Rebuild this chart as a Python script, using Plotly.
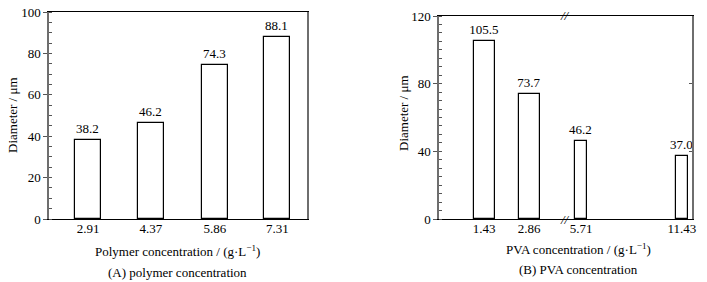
import plotly.graph_objects as go

# ---- data ----
polymer_conc = [2.91, 4.37, 5.86, 7.31]
polymer_diam = [38.2, 46.2, 74.3, 88.1]
polymer_labels = ["38.2", "46.2", "74.3", "88.1"]

pva_conc_low = [1.43, 2.86]
pva_diam_low = [105.5, 73.7]
pva_labels_low = ["105.5", "73.7"]
pva_conc_high = [5.71, 11.43]
pva_diam_high = [46.2, 37.0]
pva_labels_high = ["46.2", "37.0"]

FONT = "Liberation Serif"
FS = 13
W, H = 707, 282

def px_x(p):
    return p / W

def px_y(p):
    return 1 - p / H

fig = go.Figure()

bar_style = dict(marker=dict(color="white", line=dict(color="black", width=1.2)),
                 textposition="outside", cliponaxis=False, constraintext="none",
                 textfont=dict(family=FONT, size=FS, color="black"),
                 showlegend=False, hoverinfo="x+y")

fig.add_trace(go.Bar(x=polymer_conc, y=polymer_diam, text=polymer_labels, width=0.6,
                     xaxis="x", yaxis="y", **bar_style))
fig.add_trace(go.Bar(x=pva_conc_low, y=pva_diam_low, text=pva_labels_low, width=0.667,
                     xaxis="x2", yaxis="y2", **bar_style))
fig.add_trace(go.Bar(x=pva_conc_high, y=pva_diam_high, text=pva_labels_high, width=0.667,
                     xaxis="x3", yaxis="y3", **bar_style))

tickfont = dict(family=FONT, size=FS, color="black")
ydom = [px_y(219), px_y(12)]
ydomB = [px_y(219), px_y(16)]
brk = px_x(565)

yaxis_common = dict(showline=True, linecolor="#6e6e6e", linewidth=1.5, ticks="outside",
                    ticklen=4, tickcolor="#555", tickfont=tickfont, showgrid=False,
                    zeroline=False, automargin=False,
                    minor=dict(ticks="inside", ticklen=3, tickcolor="#555"))
xaxis_common = dict(showline=True, linecolor="black", linewidth=1.2, ticks="",
                    ticklabelstandoff=-3, automargin=False,
                    tickfont=tickfont, showgrid=False, zeroline=False)

fig.update_layout(
    width=W, height=H, margin=dict(l=0, r=0, t=0, b=0),
    paper_bgcolor="white", plot_bgcolor="white",
    font=dict(family=FONT, size=FS, color="black"),
    bargap=0,
    xaxis=dict(domain=[px_x(49), px_x(307)], range=[2, 8], anchor="y", mirror=True,
               tickvals=polymer_conc, ticktext=["2.91", "4.37", "5.86", "7.31"],
               **xaxis_common),
    yaxis=dict(domain=ydom, range=[0, 100], anchor="x", mirror=True,
               tickvals=[0, 20, 40, 60, 80, 100], **yaxis_common),
    xaxis2=dict(domain=[px_x(439), brk], range=[0, 4], anchor="y2", mirror=True,
                tickvals=pva_conc_low, ticktext=["1.43", "2.86"], **xaxis_common),
    yaxis2=dict(domain=ydomB, range=[0, 120], anchor="x2",
                tickvals=[0, 40, 80, 120], **yaxis_common),
    xaxis3=dict(domain=[brk, px_x(692)], range=[4.8, 12], anchor="y3", mirror=True,
                tickvals=pva_conc_high, ticktext=["5.71", "11.43"], **xaxis_common),
    yaxis3=dict(domain=ydomB, range=[0, 120], anchor="x3", side="right", matches="y2",
                showline=True, linecolor="#6e6e6e", linewidth=1.5, ticks="inside",
                ticklen=3, tickcolor="#555", showticklabels=False, showgrid=False,
                zeroline=False, automargin=False, tickvals=[0, 40, 80, 120]),
)

# axis titles and captions
ann = [
    (px_x(178), px_y(251), "Polymer concentration / (g·L<sup>−1</sup>)", 0),
    (px_x(178), px_y(272), "(A) polymer concentration", 0),
    (px_x(578), px_y(249), "PVA concentration / (g·L<sup>−1</sup>)", 0),
    (px_x(578), px_y(269), "(B) PVA concentration", 0),
    (px_x(12), px_y(115), "Diameter / μm", -90),
    (px_x(403), px_y(113), "Diameter / μm", -90),
]
for x, y, t, ang in ann:
    fig.add_annotation(x=x, y=y, xref="paper", yref="paper", text=t, showarrow=False,
                       xanchor="center", yanchor="middle", textangle=ang,
                       font=dict(family=FONT, size=FS, color="black"))

# axis break marks
for yy in (ydomB[0], ydomB[1]):
    fig.add_annotation(x=brk, y=yy, xref="paper", yref="paper", text="<i>//</i>",
                       showarrow=False, xanchor="center", yanchor="middle",
                       font=dict(family=FONT, size=FS, color="black"))

fig.write_html("out.html", config={"displayModeBar": False},
               post_script="document.body.style.margin='0';document.body.style.overflow='hidden';")
